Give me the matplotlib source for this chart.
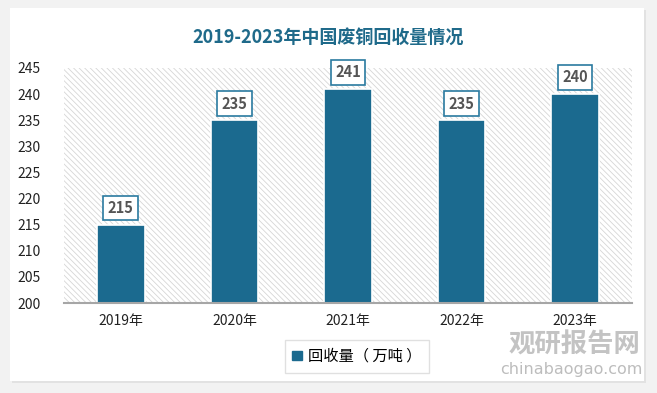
import numpy as np
import matplotlib.pyplot as plt
from matplotlib.patches import Rectangle, FancyBboxPatch

plt.rcParams['font.family'] = ['Noto Sans CJK SC', 'DejaVu Sans']
plt.rcParams['hatch.color'] = '#d4d4d4'
plt.rcParams['hatch.linewidth'] = 0.6

# 数据
years = ['2019年', '2020年', '2021年', '2022年', '2023年']
volume = [215, 235, 241, 235, 240]
yticks = [200, 205, 210, 215, 220, 225, 230, 235, 240, 245]

bar_color = '#1b6a8f'

fig = plt.figure(figsize=(6.57, 3.93), dpi=100)
fig.patch.set_facecolor('#f2f2f2')

# 卡片 + 阴影
fig.patches.append(FancyBboxPatch((0.018, 0.025), 0.965, 0.95, boxstyle='square,pad=0',
                                  transform=fig.transFigure, facecolor='#e2e2e2',
                                  edgecolor='none', zorder=-2))
fig.patches.append(FancyBboxPatch((0.015, 0.03), 0.965, 0.95, boxstyle='square,pad=0',
                                  transform=fig.transFigure, facecolor='white',
                                  edgecolor='none', zorder=-1))

ax = fig.add_axes([0.0974, 0.229, 0.8646, 0.598])
ax.set_facecolor('none')
x = np.arange(len(years))
ax.set_xlim(-0.5, len(years) - 0.5)
ax.set_ylim(200, 245)

# 斜线背景
ax.add_patch(Rectangle((0, 0), 1, 1, transform=ax.transAxes, facecolor='white',
                       edgecolor='#d6d6d6', hatch='\\\\\\\\\\\\', linewidth=0, zorder=0))

ax.bar(x, [v - 200 for v in volume], bottom=200, width=0.42, color=bar_color,
       edgecolor='white', linewidth=1.2, zorder=3)

for xi, v in zip(x, volume):
    ax.text(xi, v + 3.2, str(v), ha='center', va='center', fontsize=10.5,
            fontweight='bold', color='#555555', zorder=5,
            bbox=dict(boxstyle='square,pad=0.3', facecolor='white',
                      edgecolor='#2a7aa0', linewidth=1.2))

ax.set_xticks(x)
ax.set_xticklabels(years, fontsize=10, color='#222222')
ax.set_yticks(yticks)
ax.set_yticklabels([str(t) for t in yticks], fontsize=10, color='#222222')
ax.tick_params(axis='both', length=0)
ax.tick_params(axis='y', pad=17)
ax.tick_params(axis='x', pad=8)
for s in ['top', 'right', 'left']:
    ax.spines[s].set_visible(False)
ax.spines['bottom'].set_color('#a6a6a6')
ax.spines['bottom'].set_linewidth(1.5)
ax.spines['bottom'].set_zorder(4)

fig.text(0.5, 0.905, '2019-2023年中国废铜回收量情况', ha='center', va='center',
         fontsize=13, fontweight='bold', color='#1f6a8a')

# 图例
leg = ax.legend([Rectangle((0, 0), 1, 1, color=bar_color)], ['回收量（ 万吨 ）'],
                loc='center', bbox_to_anchor=(0.543, 0.093), bbox_transform=fig.transFigure,
                fontsize=11, frameon=True, fancybox=False, handlelength=0.6,
                handleheight=0.6, handletextpad=0.4, borderpad=0.5, borderaxespad=0)
leg.get_frame().set_edgecolor('#d9d9d9')
leg.get_frame().set_linewidth(1)

# 水印
fig.text(0.875, 0.122, '观研报告网', ha='center', va='center', fontsize=19,
         fontweight='bold', color='#bdbdbd', alpha=0.9)
fig.text(0.87, 0.06, 'chinabaogao.com', ha='center', va='center', fontsize=11.5,
         color='#bdbdbd', family='DejaVu Sans')

fig.savefig('out.png', dpi=100, facecolor=fig.get_facecolor())
